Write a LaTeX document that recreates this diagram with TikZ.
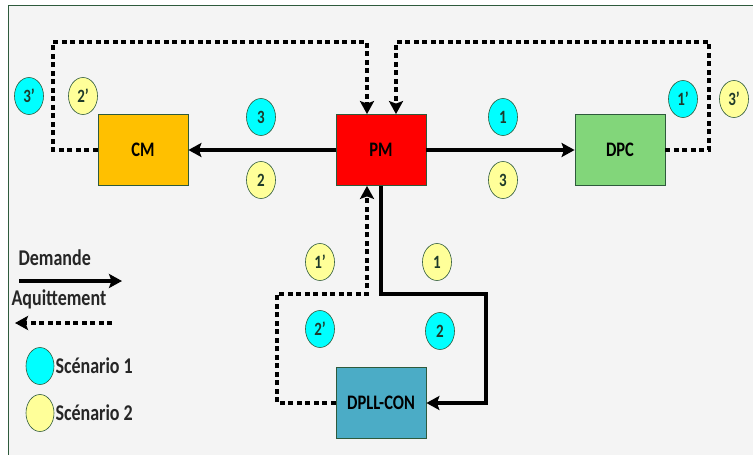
\documentclass[tikz,border=0pt]{standalone}
\usepackage{graphicx}
\usepackage{fontspec}
\setmainfont{Carlito}
\usetikzlibrary{arrows.meta,shapes.geometric}

\definecolor{frame}{HTML}{2E5A3C}
\definecolor{bgray}{HTML}{F4F4F4}
\definecolor{cmorange}{HTML}{FFC000}
\definecolor{pmred}{HTML}{FF0000}
\definecolor{dpcgreen}{HTML}{82D67A}
\definecolor{dpllblue}{HTML}{4BACC6}
\definecolor{scyan}{HTML}{00FFFF}
\definecolor{syellow}{HTML}{FFFF99}
\definecolor{numtxt}{HTML}{1E3A2A}

% text in the figure is a bit stretched vertically
\newcommand{\tall}[1]{\scalebox{1}[1.25]{#1}}

\begin{document}
\begin{tikzpicture}[x=1pt, y=-1pt,
    >={Stealth[length=13pt,width=14pt,inset=2.5pt]},
    box/.style={draw=frame, line width=0.8pt, minimum width=90pt, minimum height=71pt,
        font=\fontsize{16.5}{18}\selectfont\bfseries},
    sc/.style={ellipse, draw=frame, line width=0.6pt, minimum width=29pt, minimum height=37pt,
        inner sep=0pt, text=numtxt, font=\fontsize{15}{17}\selectfont\bfseries},
    req/.style={line width=3.4pt},
    ack/.style={line width=3.2pt, dash pattern=on 5pt off 3.5pt},
    lbl/.style={font=\fontsize{18}{20}\selectfont\bfseries, text=black!85}]

    % background and frame
    \useasboundingbox (0,0) rectangle (753,455);
    \fill[white] (0,0) rectangle (753,455);
    \fill[bgray] (8,5) rectangle (753,455);
    \draw[frame, line width=1pt] (8,455) -- (8,5) -- (753,5);

    % blocks
    \node[box, fill=cmorange] (cm) at (143,150) {\tall{CM}};
    \node[box, fill=pmred] (pm) at (381,150) {\tall{PM}};
    \node[box, fill=dpcgreen] (dpc) at (620,150) {\tall{DPC}};
    \node[box, fill=dpllblue] (dpll) at (381,403) {\tall{DPLL-CON}};

    \coordinate (tl) at (53,42);
    \coordinate (tr) at (709,42);
    \coordinate (bl) at (277,294);
    \coordinate (br) at (486,294);

    % requests
    \draw[req, ->] (pm) -- (cm);
    \draw[req, ->] (pm) -- (dpc);
    \draw[req, ->] (pm.south) |- (br) |- (dpll.east);

    % acknowledgements
    \draw[ack, ->] (cm.west) -| (tl) -| ([xshift=-14pt]pm.north);
    \draw[ack, ->] (dpc.east) -| (tr) -| ([xshift=15pt]pm.north);
    \draw[ack, ->] (dpll.west) -| (bl) -| ([xshift=-14pt]pm.south);

    % scenario marks
    \node[sc, fill=scyan] (a3p) at (29,96) {\tall{3'}};
    \node[sc, fill=syellow] (b2p) at (83,96) {\tall{2'}};
    \node[sc, fill=scyan] (a3) at (261,117) {\tall{3}};
    \node[sc, fill=syellow] (b2) at (261,180) {\tall{2}};
    \node[sc, fill=scyan] (a1) at (503,117) {\tall{1}};
    \node[sc, fill=syellow] (b3) at (503,180) {\tall{3}};
    \node[sc, fill=scyan] (a1p) at (683,99) {\tall{1'}};
    \node[sc, fill=syellow] (b3p) at (734,99) {\tall{3'}};
    \node[sc, fill=syellow] (b1p) at (320,262) {\tall{1'}};
    \node[sc, fill=scyan] (a2p) at (320,329) {\tall{2'}};
    \node[sc, fill=syellow] (b1) at (437,262) {\tall{1}};
    \node[sc, fill=scyan] (a2) at (440,331) {\tall{2}};

    % legend
    \node[lbl, anchor=west] (dem) at (15,258) {\tall{Demande}};
    \coordinate (dem1) at (19,281);
    \coordinate (dem2) at (122,281);
    \draw[req, ->] (dem1) -- (dem2);
    \node[lbl, anchor=west] (aqu) at (8,299) {\tall{Aquittement}};
    \coordinate (aqu1) at (112,323);
    \coordinate (aqu2) at (15,323);
    \draw[ack, ->] (aqu1) -- (aqu2);
    \node[sc, fill=scyan, minimum width=28pt] (lg1) at (40,366) {};
    \node[lbl, anchor=west, inner sep=1pt] (s1) at (lg1.east) {\tall{Scénario 1}};
    \node[sc, fill=syellow, minimum width=28pt] (lg2) at (40,413) {};
    \node[lbl, anchor=west, inner sep=1pt] (s2) at (lg2.east) {\tall{Scénario 2}};
\end{tikzpicture}
\end{document}
